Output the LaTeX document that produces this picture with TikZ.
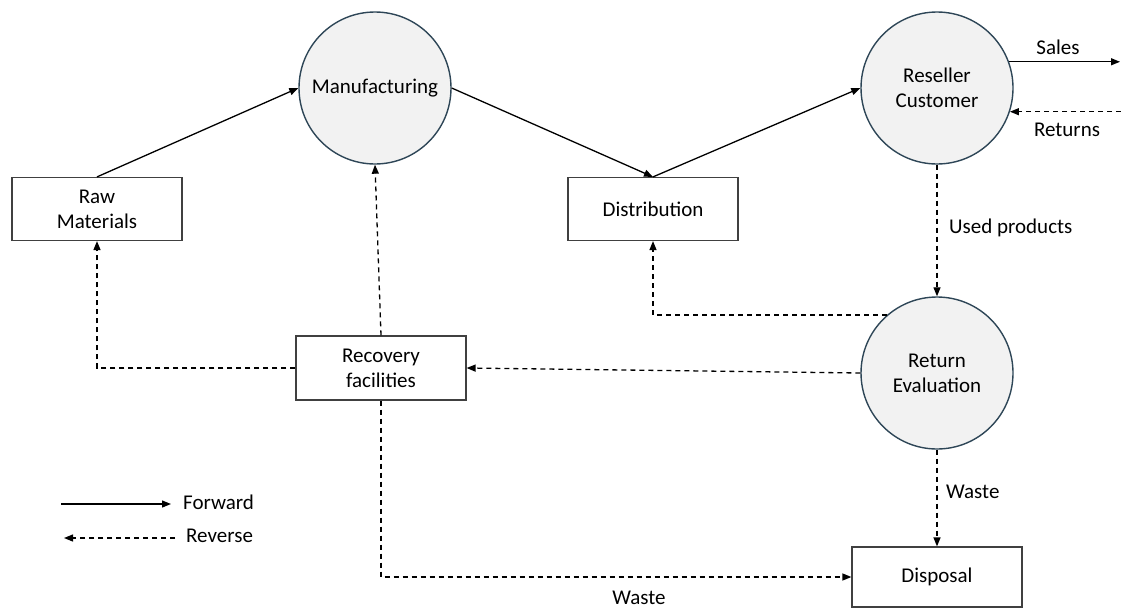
\documentclass[tikz,border=0pt]{standalone}
\usepackage{fontspec}
\setmainfont{Carlito}
\usetikzlibrary{arrows.meta}
\definecolor{circfill}{HTML}{F2F2F2}
\definecolor{circdraw}{HTML}{2E4657}
\definecolor{boxdraw}{HTML}{404040}
\begin{document}
\begin{tikzpicture}[x=1pt,y=-1pt,
  every node/.style={font=\fontsize{21}{25}\selectfont, text=black},
  proc/.style={circle, draw=circdraw, fill=circfill, line width=1.4pt, minimum size=152pt, inner sep=0pt, align=center},
  boxnode/.style={rectangle, draw=boxdraw, line width=1.2pt, minimum width=170pt, minimum height=63pt, inner sep=0pt, align=center},
  lbl/.style={inner sep=0pt},
  fwd/.style={line width=1.3pt, -{Triangle[length=9pt,width=7pt]}},
  rev/.style={line width=1.3pt, dash pattern=on 5pt off 4pt, -{Triangle[length=9pt,width=7pt]}}
]
\useasboundingbox (0,0) rectangle (1121,608);

\node[boxnode] (rm) at (97,209) {Raw\\Materials};
\node[proc] (mf) at (375,88) {Manufacturing};
\node[boxnode] (di) at (653,209) {Distribution};
\node[proc] (rc) at (937,88) {Reseller\\Customer};
\node[proc] (re) at (937,373) {Return\\Evaluation};
\node[boxnode, minimum height=64pt] (rf) at (381,368) {Recovery\\facilities};
\node[boxnode, minimum height=60pt] (dp) at (937,577) {Disposal};

\coordinate (salesend) at (1120,62);
\coordinate (retstart) at (1121,112);

% forward flows
\draw[fwd] (rm.north) -- (mf.west);
\draw[fwd] (mf.east) -- (di.north);
\draw[fwd] (di.north) -- (rc.west);
\draw[fwd] (rc.20) -- (rc.20 -| salesend);
\node[lbl] (lsales) at (1058,47) {Sales};

% reverse flows
\draw[rev] (retstart |- rc.-18) -- (rc.-18);
\node[lbl] (lret) at (1067,130) {Returns};
\draw[rev] (rc.south) -- (re.north);
\node[lbl, anchor=west] (lused) at (949,228) {Used products};
\draw[rev] (re.131) -- (re.131 -| di.south) -- (di.south);
\draw[rev] (re.west) -- (rf.east);
\draw[rev] (rf.west) -| (rm.south);
\draw[rev] (rf.north) -- (mf.south);
\draw[rev] (rf.south) |- (dp.west);
\node[lbl] (lwaste1) at (639,598) {Waste};
\draw[rev] (re.south) -- (dp.north);
\node[lbl, anchor=west] (lwaste2) at (946,492) {Waste};

% legend
\coordinate (f1) at (61,504);
\coordinate (f2) at (171,504);
\coordinate (r1) at (175,538);
\coordinate (r2) at (64,538);
\draw[fwd] (f1) -- (f2);
\node[lbl, anchor=west] (lfwd) at (183,502) {Forward};
\draw[rev] (r1) -- (r2);
\node[lbl, anchor=west] (lrev) at (186,536) {Reverse};
\end{tikzpicture}
\end{document}
